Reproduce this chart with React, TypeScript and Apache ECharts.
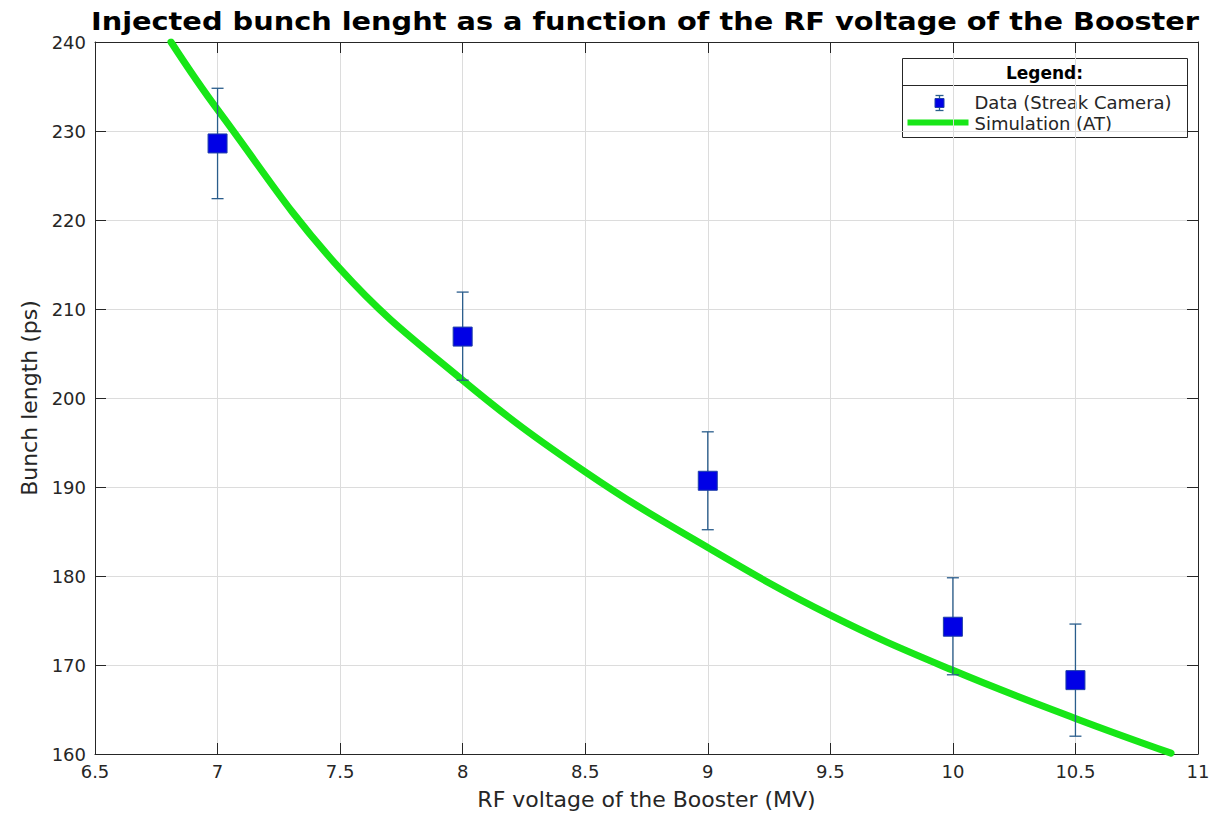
import React, { useEffect, useRef } from "react";
import * as echarts from "echarts";

const titleText = "Injected bunch lenght as a function of the RF voltage of the Booster";
const xAxisName = "RF voltage of the Booster (MV)";
const yAxisName = "Bunch length (ps)";

const voltages = [7, 8, 9, 10, 10.5];
const bunchLength = [228.6, 206.9, 190.7, 174.3, 168.3];
const errLow = [222.4, 202.0, 185.2, 168.9, 162.0];
const errHigh = [234.8, 211.9, 196.2, 179.8, 174.6];

const simVoltage = [6.81, 7, 7.5, 8, 8.5, 9, 9.5, 10, 10.5, 10.89];
const simLength = [240, 232.4, 214.5, 202.0, 191.7, 183.2, 175.6, 169.4, 164.0, 160.1];

const legendTitle = "Legend:";
const legendData = "Data (Streak Camera)";
const legendSim = "Simulation (AT)";

const FONT = "DejaVu Sans";
const AXIS = "#262626";
const ERR = "#2a5d8c";
const GREEN = "#17e617";
const BLUE = "#0000e6";

export default function App() {
  const ref = useRef<HTMLDivElement>(null);
  useEffect(() => {
    const chart = echarts.init(ref.current!, undefined, { renderer: "svg" });
    const scatterData = voltages.map((v, i) => [v, bunchLength[i]]);
    const errData = voltages.map((v, i) => [v, errLow[i], errHigh[i]]);
    const simData = simVoltage.map((v, i) => [v, simLength[i]]);
    const axisLine = { show: true, lineStyle: { color: AXIS, width: 1 } };
    const tick = { show: true, inside: true, length: 11, lineStyle: { color: AXIS } };
    chart.setOption({
      animation: false,
      backgroundColor: "#ffffff",
      grid: { left: 95, right: 16, top: 42, bottom: 61, containLabel: false },
      xAxis: [
        {
          type: "value",
          min: 6.5,
          max: 11,
          interval: 0.5,
          name: xAxisName,
          nameLocation: "middle",
          nameGap: 34,
          nameTextStyle: { fontFamily: FONT, fontSize: 22, color: AXIS },
          axisLine,
          axisTick: tick,
          axisLabel: { fontFamily: FONT, fontSize: 18, color: AXIS, margin: 8 },
          splitLine: { show: true, lineStyle: { color: "#dcdcdc", width: 1 } },
        },
        {
          type: "value",
          position: "top",
          min: 6.5,
          max: 11,
          interval: 0.5,
          axisLine,
          axisTick: tick,
          axisLabel: { show: false },
          splitLine: { show: false },
        },
      ],
      yAxis: [
        {
          type: "value",
          min: 160,
          max: 240,
          interval: 10,
          name: yAxisName,
          nameLocation: "middle",
          nameGap: 55,
          nameTextStyle: { fontFamily: FONT, fontSize: 22, color: AXIS },
          axisLine,
          axisTick: tick,
          axisLabel: { fontFamily: FONT, fontSize: 18, color: AXIS, margin: 9 },
          splitLine: { show: true, lineStyle: { color: "#dcdcdc", width: 1 } },
        },
        {
          type: "value",
          position: "right",
          min: 160,
          max: 240,
          interval: 10,
          axisLine,
          axisTick: tick,
          axisLabel: { show: false },
          splitLine: { show: false },
        },
      ],
      series: [
        {
          name: legendSim,
          type: "line",
          data: simData,
          smooth: 0.4,
          showSymbol: false,
          symbol: "none",
          lineStyle: { color: GREEN, width: 7, cap: "round" },
          z: 2,
        },
        {
          name: "err",
          type: "custom",
          data: errData,
          z: 3,
          renderItem: (params: any, api: any) => {
            const x = api.value(0);
            const lo = api.coord([x, api.value(1)]);
            const hi = api.coord([x, api.value(2)]);
            const w = 6;
            const style = { stroke: ERR, lineWidth: 1.3 };
            return {
              type: "group",
              children: [
                { type: "line", shape: { x1: lo[0], y1: lo[1], x2: hi[0], y2: hi[1] }, style },
                { type: "line", shape: { x1: lo[0] - w, y1: lo[1], x2: lo[0] + w, y2: lo[1] }, style },
                { type: "line", shape: { x1: hi[0] - w, y1: hi[1], x2: hi[0] + w, y2: hi[1] }, style },
              ],
            };
          },
        },
        {
          name: legendData,
          type: "scatter",
          data: scatterData,
          symbol: "rect",
          symbolSize: 19,
          itemStyle: { color: BLUE, borderColor: "#1f3fa8", borderWidth: 1, opacity: 1 },
          z: 4,
        },
      ],
      graphic: [
        {
          type: "text",
          x: 645,
          y: 21,
          scaleX: 1.2,
          originX: 0,
          z: 100,
          style: {
            text: titleText,
            fontFamily: FONT,
            fontWeight: "bold",
            fontSize: 24,
            fill: "#000",
            align: "center",
            verticalAlign: "middle",
          },
        },
        {
          type: "group",
          left: 900,
          top: 58,
          z: 100,
          children: [
            { type: "rect", shape: { x: 0, y: 0, width: 285, height: 79 }, style: { fill: "#fff", stroke: AXIS, lineWidth: 1 } },
            { type: "line", shape: { x1: 0, y1: 27, x2: 285, y2: 27 }, style: { stroke: AXIS, lineWidth: 1 } },
            {
              type: "text",
              x: 142,
              y: 14,
              style: { text: legendTitle, fontFamily: FONT, fontWeight: "bold", fontSize: 17, fill: "#000", align: "center", verticalAlign: "middle" },
            },
            { type: "line", shape: { x1: 37, y1: 37, x2: 37, y2: 52 }, style: { stroke: ERR, lineWidth: 1.3 } },
            { type: "line", shape: { x1: 33, y1: 37, x2: 41, y2: 37 }, style: { stroke: ERR, lineWidth: 1.3 } },
            { type: "line", shape: { x1: 33, y1: 52, x2: 41, y2: 52 }, style: { stroke: ERR, lineWidth: 1.3 } },
            { type: "rect", shape: { x: 32.5, y: 40, width: 9, height: 9 }, style: { fill: BLUE, stroke: "#1f3fa8", lineWidth: 1 } },
            {
              type: "text",
              x: 72,
              y: 44,
              style: { text: legendData, fontFamily: FONT, fontSize: 18, fill: AXIS, verticalAlign: "middle" },
            },
            { type: "line", shape: { x1: 5, y1: 64, x2: 66, y2: 64 }, style: { stroke: GREEN, lineWidth: 6 } },
            {
              type: "text",
              x: 72,
              y: 65,
              style: { text: legendSim, fontFamily: FONT, fontSize: 18, fill: AXIS, verticalAlign: "middle" },
            },
          ],
        },
      ],
    });
    return () => chart.dispose();
  }, []);
  return <div ref={ref} style={{ width: 1214, height: 815, position: "absolute", left: 0, top: 0 }} />;
}
